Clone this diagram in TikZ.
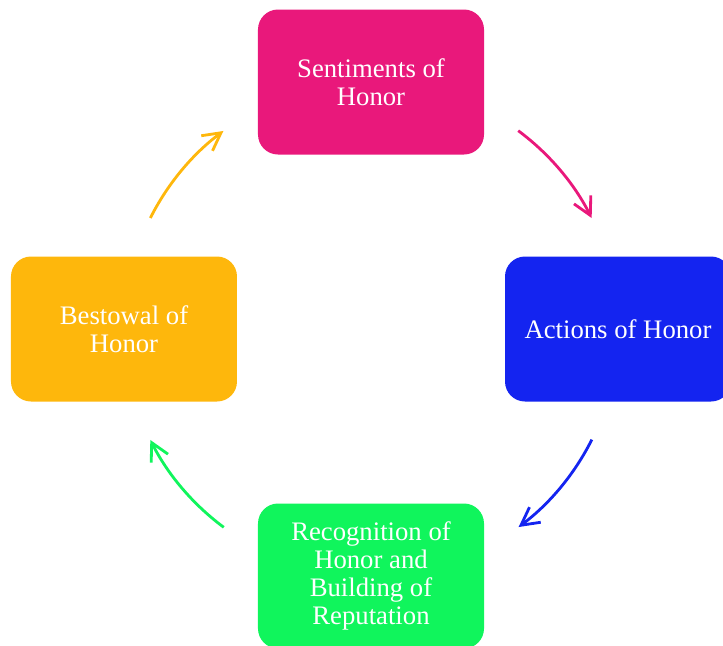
\documentclass[tikz,border=0pt]{standalone}
\usepackage{fontspec}
\setmainfont{Liberation Serif}
\usetikzlibrary{arrows.meta}

\definecolor{honorpink}{RGB}{233,24,123}
\definecolor{honorblue}{RGB}{20,36,240}
\definecolor{honorgreen}{RGB}{16,245,92}
\definecolor{honororange}{RGB}{254,183,12}

\begin{document}
\begin{tikzpicture}[
	honorbox/.style={rectangle, rounded corners=0.5cm, fill=#1, draw=none,
		minimum width=5.65cm, minimum height=3.625cm, inner sep=0pt,
		text=white, align=center, font=\fontsize{19}{19.8}\selectfont},
	cyclearrow/.style={line width=2pt, color=#1,
		-{Straight Barb[length=4.4mm,width=4.7mm]}}
]

	\useasboundingbox (-9.275,-7.9) rectangle (8.8,8.225);

	% the four stages, on a circle of radius 6.175

	\node[honorbox=honorpink] (sentiments) at (90:6.175) {Sentiments of\\Honor};
	\node[honorbox=honorblue] (actions) at (0:6.175) {Actions of Honor};
	\node[honorbox=honorgreen] (recognition) at (270:6.175) {Recognition of\\Honor and\\Building of\\Reputation};
	\node[honorbox=honororange] (bestowal) at (180:6.175) {Bestowal of\\Honor};

	% arcs between the stages

	\foreach \from/\to/\col [count=\i] in {53.4/26.7/honorpink, -26.6/-53.3/honorblue, 233.4/206.7/honorgreen, 153.3/126.7/honororange}
	{
		\coordinate (arc\i) at (\from:6.175);
		\draw[cyclearrow=\col] (arc\i) arc[start angle=\from, end angle=\to, radius=6.175];
	}

\end{tikzpicture}
\end{document}
